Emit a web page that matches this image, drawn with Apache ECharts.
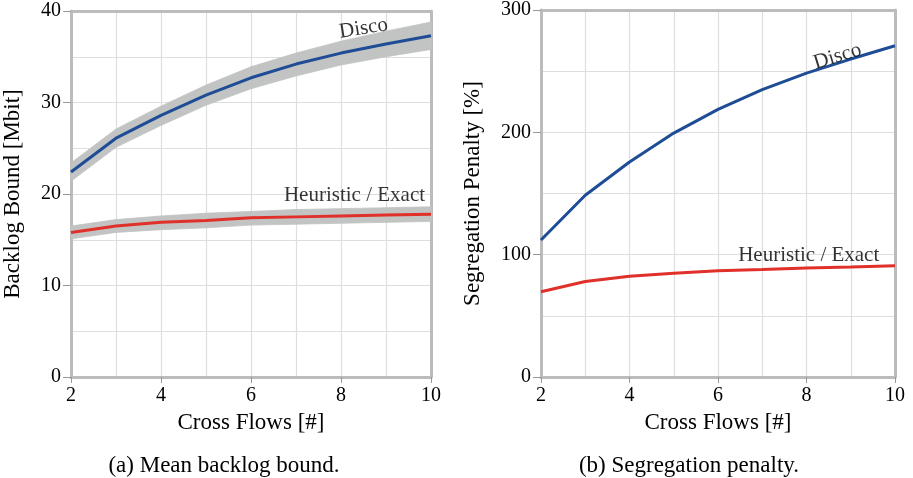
<!DOCTYPE html>
<html>
<head>
<meta charset="utf-8">
<script src="https://cdn.jsdelivr.net/npm/echarts@6/dist/echarts.min.js"></script>
<style>
  html, body { margin: 0; padding: 0; background: #fff; }
  #chart { width: 913px; height: 478px; }
</style>
</head>
<body>
<div id="chart"></div>
<script>
// cross flows on the x axis
const flows = [2, 3, 4, 5, 6, 7, 8, 9, 10]

// (a) mean backlog bound [Mbit]
const backlogDisco = [22.4, 26.1, 28.6, 30.8, 32.7, 34.2, 35.4, 36.4, 37.3]
const backlogDiscoLow = [21.4, 25.1, 27.5, 29.7, 31.5, 32.9, 34.1, 35.0, 35.8]
const backlogDiscoHigh = [23.4, 27.1, 29.6, 31.9, 33.9, 35.4, 36.7, 37.8, 38.8]
const backlogHeur = [15.8, 16.5, 16.9, 17.1, 17.4, 17.5, 17.6, 17.7, 17.8]
const backlogHeurLow = [15.1, 15.8, 16.1, 16.3, 16.6, 16.7, 16.8, 16.9, 17.0]
const backlogHeurHigh = [16.5, 17.2, 17.6, 17.9, 18.1, 18.3, 18.4, 18.5, 18.6]

// (b) segregation penalty [%]
const penaltyDisco = [112, 148.6, 175.8, 199.4, 218.8, 234.9, 248.4, 259.9, 270.8]
const penaltyHeur = [69.7, 78.1, 82.4, 84.9, 86.8, 87.9, 89.2, 90.0, 90.9]

// texts
const seriesNames = ['Disco', 'Heuristic / Exact']
const captions = ['(a) Mean backlog bound.', '(b) Segregation penalty.']
const xName = 'Cross Flows [#]'
const yNames = ['Backlog Bound [Mbit]', 'Segregation Penalty [%]']

// label anchors [x, y, rotate]
const backlogLabels = [[8.5, 38.1, 9], [8.3, 19.8, 0]]
const penaltyLabels = [[8.7, 262, 17], [8.05, 99, 0]]

const FONT = '"Liberation Serif", "DejaVu Serif", serif'
const INK = '#000'
const FRAME = '#bcbcbc'
const GRIDC = '#dedede'
const BLUE = '#1e4d95'
const RED = '#e0302a'
const BAND = '#c2c3c3'

const pairs = (ys) => flows.map((x, i) => [x, ys[i]])
// one row per segment: x0, lo0, hi0, x1, lo1, hi1
const segments = (lo, hi) => flows.slice(0, -1).map((x, i) => [x, lo[i], hi[i], flows[i + 1], lo[i + 1], hi[i + 1]])

const xAxisMain = (gridIndex) => ({
  type: 'value',
  gridIndex,
  min: 2,
  max: 10,
  interval: 2,
  name: xName,
  nameLocation: 'middle',
  nameGap: 34,
  nameTextStyle: { fontFamily: FONT, fontSize: 23, color: INK },
  axisLine: { show: true, lineStyle: { color: FRAME, width: 3 } },
  axisTick: { show: true, length: 6, lineStyle: { color: '#999', width: 1 } },
  axisLabel: { fontFamily: FONT, fontSize: 20, color: INK, margin: 9 },
  splitLine: { show: true, lineStyle: { color: GRIDC, width: 1.2 } },
  minorTick: { show: false, splitNumber: 2 },
  minorSplitLine: { show: true, lineStyle: { color: GRIDC, width: 1.2 } }
})

const yAxisMain = (gridIndex, max, interval, name, gap) => ({
  type: 'value',
  gridIndex,
  min: 0,
  max,
  interval,
  name,
  nameLocation: 'middle',
  nameGap: gap,
  nameTextStyle: { fontFamily: FONT, fontSize: 23, color: INK },
  axisLine: { show: true, lineStyle: { color: FRAME, width: 3 } },
  axisTick: { show: true, length: 8, lineStyle: { color: '#999', width: 1 } },
  axisLabel: { fontFamily: FONT, fontSize: 20, color: INK, margin: 10 },
  splitLine: { show: true, lineStyle: { color: GRIDC, width: 1.2 } },
  minorTick: { show: false, splitNumber: 2 },
  minorSplitLine: { show: true, lineStyle: { color: GRIDC, width: 1.2 } }
})

// top and right edges of the frame
const frameX = (gridIndex) => ({
  type: 'value', gridIndex, position: 'top', min: 2, max: 10,
  axisLine: { show: true, onZero: false, lineStyle: { color: FRAME, width: 3 } },
  axisTick: { show: false }, axisLabel: { show: false }, splitLine: { show: false }
})
const frameY = (gridIndex, max) => ({
  type: 'value', gridIndex, position: 'right', min: 0, max,
  axisLine: { show: true, onZero: false, lineStyle: { color: FRAME, width: 3 } },
  axisTick: { show: false }, axisLabel: { show: false }, splitLine: { show: false }
})

// grey spread band around a mean line
const band = (xi, yi, lo, hi) => ({
  type: 'custom', xAxisIndex: xi, yAxisIndex: yi, silent: true, z: 1,
  data: segments(lo, hi),
  encode: { x: [0, 3], y: [1, 2, 4, 5] },
  renderItem: (params, api) => {
    const p = [
      api.coord([api.value(0), api.value(1)]),
      api.coord([api.value(3), api.value(4)]),
      api.coord([api.value(3), api.value(5)]),
      api.coord([api.value(0), api.value(2)])
    ]
    return {
      type: 'polygon',
      shape: { points: p },
      style: { fill: BAND, stroke: BAND, lineWidth: 0.8 }
    }
  }
})

const line = (xi, yi, ys, color) => ({
  type: 'line', xAxisIndex: xi, yAxisIndex: yi,
  data: pairs(ys), symbol: 'none', silent: true,
  lineStyle: { color, width: 3 }, z: 3
})

const textMark = (xi, yi, anchor, text) => ({
  type: 'scatter', xAxisIndex: xi, yAxisIndex: yi,
  data: [[anchor[0], anchor[1]]], symbolSize: 0, silent: true, z: 5,
  label: {
    show: true, position: 'inside', formatter: text, rotate: anchor[2],
    fontFamily: FONT, fontSize: 21, color: INK, textBorderWidth: 0
  }
})

const chart = echarts.init(document.getElementById('chart'), null, { renderer: 'canvas' })

chart.setOption({
  animation: false,
  backgroundColor: '#fff',
  title: [
    { text: captions[0], left: 219, top: 449, textAlign: 'center',
      textStyle: { fontFamily: FONT, fontSize: 23, fontWeight: 'normal', color: INK } },
    { text: captions[1], left: 684, top: 449, textAlign: 'center',
      textStyle: { fontFamily: FONT, fontSize: 23, fontWeight: 'normal', color: INK } }
  ],
  grid: [
    { left: 65, top: 11, width: 366, height: 366 },
    { left: 541, top: 9.5, width: 354, height: 367.5 }
  ],
  xAxis: [xAxisMain(0), xAxisMain(1), frameX(0), frameX(1)],
  yAxis: [
    yAxisMain(0, 40, 10, yNames[0], 47),
    yAxisMain(1, 300, 100, yNames[1], 57),
    frameY(0, 40),
    frameY(1, 300)
  ],
  series: [
    band(0, 0, backlogDiscoLow, backlogDiscoHigh),
    band(0, 0, backlogHeurLow, backlogHeurHigh),
    line(0, 0, backlogDisco, BLUE),
    line(0, 0, backlogHeur, RED),
    line(1, 1, penaltyDisco, BLUE),
    line(1, 1, penaltyHeur, RED),
    textMark(0, 0, backlogLabels[0], seriesNames[0]),
    textMark(0, 0, backlogLabels[1], seriesNames[1]),
    textMark(1, 1, penaltyLabels[0], seriesNames[0]),
    textMark(1, 1, penaltyLabels[1], seriesNames[1])
  ]
})
</script>
</body>
</html>
